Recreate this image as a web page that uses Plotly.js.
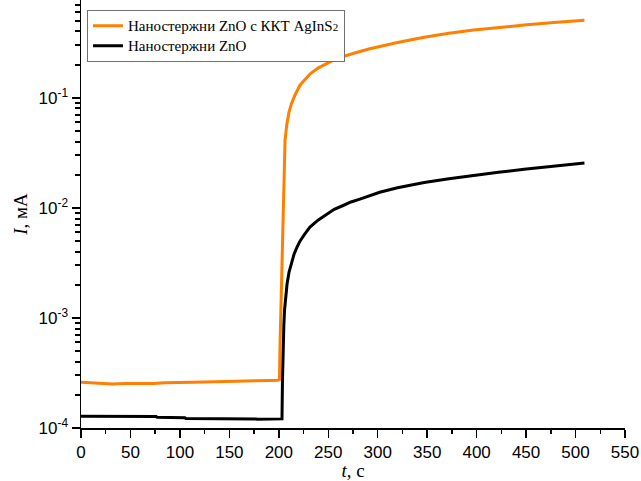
<!DOCTYPE html>
<html>
<head>
<meta charset="utf-8">
<script src="https://cdn.plot.ly/plotly-3.0.1.min.js"></script>
<style>html,body{margin:0;padding:0;background:#fff;}#chart{width:641px;height:481px;}</style>
</head>
<body>
<div id="chart"></div>
<script>
// Orange series: ZnO nanorods with AgInS2 QDs
const tOrange = [0, 10, 20, 32, 45, 60, 73, 85, 100, 113, 125, 140, 148, 160, 175, 190, 199, 200.6,
  201.3, 202.2, 203.0, 203.7, 204.5, 205.3, 206.3, 208.0, 210.3, 213.0, 216.4, 221.4, 226.5, 231.5,
  239.6, 248.7, 256, 265, 273, 282, 292, 302, 320, 347, 372, 397, 422, 448, 478, 509];
const iOrange = [2.60e-4, 2.57e-4, 2.53e-4, 2.51e-4, 2.53e-4, 2.52e-4, 2.53e-4, 2.58e-4, 2.57e-4, 2.60e-4,
  2.62e-4, 2.63e-4, 2.65e-4, 2.66e-4, 2.68e-4, 2.70e-4, 2.72e-4, 2.75e-4,
  6.0e-4, 1.3e-3, 2.5e-3, 4.1e-3, 1.45e-2, 2.72e-2, 4.12e-2, 5.65e-2, 7.41e-2, 8.95e-2, 0.106, 0.130,
  0.148, 0.164, 0.186, 0.207, 0.222, 0.237, 0.250, 0.263, 0.279, 0.294, 0.318, 0.355, 0.386, 0.413,
  0.436, 0.457, 0.483, 0.505];

// Black series: bare ZnO nanorods
const tBlack = [0, 20, 40, 60, 76, 77, 100, 105, 106, 130, 150, 177, 178, 195, 203.2, 203.7, 204.2,
  205.1, 205.8, 206.8, 208.3, 210.3, 212.8, 215.4, 218.4, 221.4, 226.5, 231.5, 239.6, 248.7, 256, 265,
  273, 282, 292, 302, 320, 347, 372, 397, 422, 448, 478, 509];
const iBlack = [1.28e-4, 1.28e-4, 1.28e-4, 1.27e-4, 1.27e-4, 1.25e-4, 1.25e-4, 1.24e-4, 1.22e-4, 1.22e-4,
  1.22e-4, 1.21e-4, 1.20e-4, 1.20e-4, 1.21e-4, 2.72e-4, 5.08e-4, 8.59e-4, 1.175e-3, 1.54e-3, 2.02e-3,
  2.60e-3, 3.21e-3, 3.79e-3, 4.40e-3, 4.98e-3, 5.82e-3, 6.68e-3, 7.73e-3, 8.85e-3, 9.7e-3, 1.05e-2,
  1.13e-2, 1.20e-2, 1.29e-2, 1.385e-2, 1.52e-2, 1.70e-2, 1.84e-2, 1.98e-2, 2.10e-2, 2.24e-2, 2.40e-2,
  2.55e-2];

const seriesNames = ["Наностержни ZnO с ККТ AgInS<span style=\"font-size:11px\">2</span>", "Наностержни ZnO"];
const yTickVals = [1e-4, 1e-3, 1e-2, 1e-1];
const yTickText = ["10<sup>-4</sup>", "10<sup>-3</sup>", "10<sup>-2</sup>", "10<sup>-1</sup>"];
const yMinorVals = [];
[1e-4, 1e-3, 1e-2, 1e-1].forEach(d => { for (let k = 2; k <= 9; k++) yMinorVals.push(d * k); });

const traces = [
  // invisible copy on the overlay axis that carries the minor ticks
  {x: tBlack, y: iBlack, type: 'scatter', mode: 'lines', yaxis: 'y2', showlegend: false,
   hoverinfo: 'skip', line: {color: 'rgba(0,0,0,0)', width: 0}},
  {x: tOrange, y: iOrange, type: 'scatter', mode: 'lines', name: '<span style="font-size:15px">' + seriesNames[0] + '</span>',
   line: {color: '#FF7F00', width: 3}},
  {x: tBlack, y: iBlack, type: 'scatter', mode: 'lines', name: '<span style="font-size:15px">' + seriesNames[1] + '</span>',
   line: {color: '#000000', width: 3}}
];

const layout = {
  width: 641, height: 481,
  margin: {l: 81, r: 16, t: 0, b: 53},
  paper_bgcolor: '#fff', plot_bgcolor: '#fff',
  showlegend: true,
  legend: {x: 0.011, y: 0.977, xanchor: 'left', yanchor: 'top', traceorder: 'normal',
    bordercolor: '#707070', borderwidth: 1, bgcolor: '#fff',
    font: {family: 'Liberation Serif', size: 13, color: '#000'},
    tracegroupgap: 0, itemwidth: 30},
  xaxis: {range: [0, 550], dtick: 50, tick0: 0, ticks: 'outside', ticklen: 8, tickwidth: 1.5,
    tickcolor: '#000', showline: true, linecolor: '#000', linewidth: 1.5, showgrid: false, zeroline: false,
    tickfont: {family: 'Liberation Sans', size: 17, color: '#000'},
    minor: {dtick: 25, ticks: 'outside', ticklen: 4, tickwidth: 1.5, tickcolor: '#000', showgrid: false},
    title: {text: '<i>t</i>, с', font: {family: 'Liberation Serif', size: 19, color: '#000'}, standoff: 10}},
  yaxis: {type: 'log', range: [-4, -0.112], tickmode: 'array', tickvals: yTickVals, ticktext: yTickText,
    ticks: 'outside', ticklen: 8, tickwidth: 2, tickcolor: '#000',
    showline: true, linecolor: '#000', linewidth: 1.5, showgrid: false, zeroline: false,
    tickfont: {family: 'Liberation Sans', size: 17, color: '#000'},
    title: {text: '<i>I</i>, мА', font: {family: 'Liberation Serif', size: 19, color: '#000'}, standoff: 6}},
  yaxis2: {type: 'log', range: [-4, -0.112], overlaying: 'y', side: 'left', anchor: 'x',
    tickmode: 'array', tickvals: yMinorVals, ticktext: yMinorVals.map(() => ''),
    ticks: 'outside', ticklen: 5, tickwidth: 2, tickcolor: '#000',
    showticklabels: false, showline: false, showgrid: false, zeroline: false}
};

Plotly.newPlot('chart', traces, layout, {staticPlot: true, displayModeBar: false});
</script>
</body>
</html>
